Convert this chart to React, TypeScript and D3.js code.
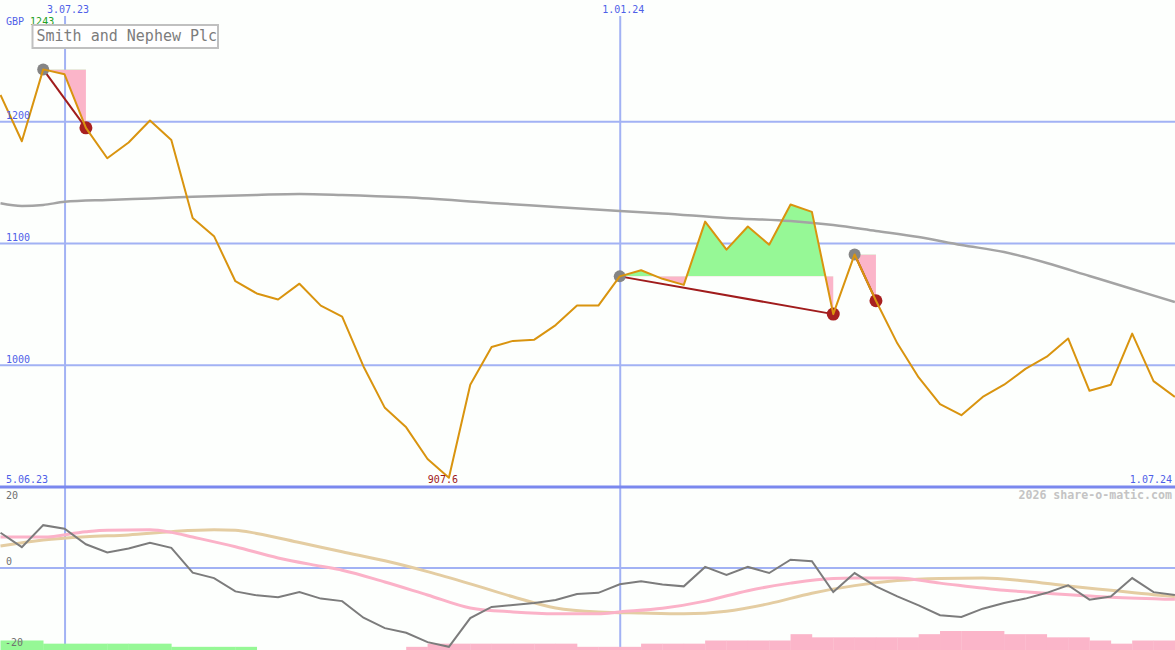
import React from "react";
import * as d3 from "d3";

const W = 1175;
const H = 650;

const title = "Smith and Nephew Plc";
const currency = "GBP";
const site = "2026 share-o-matic.com";

// weekly closes (GBp)
const price = [
  1222, 1184, 1243, 1239, 1195, 1170, 1183, 1201, 1185, 1121, 1106, 1069, 1059, 1054,
  1067, 1049, 1040, 999, 965, 949, 923, 907.6, 984, 1015, 1020, 1021, 1033, 1049, 1049,
  1073, 1078, 1071, 1066, 1118, 1095, 1114, 1099, 1132, 1126, 1042, 1091, 1053, 1018,
  990, 968, 959, 974, 984, 997, 1007, 1022, 979, 984, 1026, 987, 974,
];

// long moving average (read at selected weeks)
const maWeeks = [0, 1, 2, 3, 5, 7, 9, 12, 14, 16, 19, 23, 26, 29, 31, 34, 37, 39, 41, 43, 45, 47, 49, 51, 53, 55];
const maVals = [1133.1, 1130.9, 1131.7, 1134.2, 1135.8, 1137.0, 1138.3, 1139.9, 1140.7, 1139.9, 1137.9, 1133.3, 1130.0, 1126.7, 1124.7, 1121.0, 1118.5, 1115.2, 1110.3, 1105.3, 1098.8, 1093.0, 1084.0, 1073.3, 1062.6, 1051.9];

// lower panel: momentum (weekly)
const momentum = [
  9.8, 5.8, 11.9, 10.9, 6.6, 4.3, 5.4, 7.0, 5.6, -1.3, -2.8, -6.5, -7.6, -8.1, -6.7, -8.5,
  -9.2, -13.8, -16.7, -18.0, -20.6, -21.9, -13.9, -10.8, -10.3, -9.7, -8.9, -7.2, -6.9,
  -4.5, -3.7, -4.6, -5.1, 0.3, -1.9, 0.3, -1.4, 2.3, 1.9, -6.7, -1.4, -5.1, -7.9, -10.4,
  -13.1, -13.6, -11.3, -9.7, -8.5, -6.9, -4.8, -8.8, -7.9, -2.8, -6.7, -7.5,
];

// lower panel: pink signal line
const pinkWeeks = [0, 2, 4, 5, 7, 8, 9, 11, 13, 15, 16, 18, 20, 22, 24, 26, 28, 29, 31, 33, 35, 37, 39, 40, 42, 44, 47, 49, 52, 55];
const pinkVals = [8.6, 8.6, 10.1, 10.5, 10.6, 9.9, 8.6, 5.9, 2.8, 0.5, -0.6, -3.9, -7.5, -11.1, -12.2, -12.7, -12.7, -12.2, -11.2, -9.2, -6.3, -4.2, -2.9, -2.8, -2.8, -4.2, -6.2, -7.0, -8.1, -8.7];

// lower panel: tan signal line
const tanWeeks = [0, 2, 4, 6, 8, 10, 11, 12, 14, 16, 18, 20, 22, 24, 26, 28, 30, 32, 34, 36, 38, 40, 42, 44, 46, 48, 50, 52, 54, 55];
const tanVals = [6.1, 7.8, 8.7, 9.2, 10.1, 10.6, 10.5, 9.6, 7.1, 4.5, 2.0, -1.0, -4.4, -8.0, -11.1, -12.2, -12.5, -12.7, -12.0, -9.9, -7.0, -4.9, -3.5, -2.9, -2.75, -3.6, -5.0, -6.2, -7.4, -7.9];

// lower panel: histogram levels (positive green, negative pink)
const bars = [
  3, 3, 2, 2, 2, 2, 2, 2, 1, 1, 1, 1, 0, 0, 0, 0, 0, 0, 0, -1, -2, -2, -2, -2, -2, -2, -2,
  -1, -1, -1, -2, -2, -2, -3, -3, -3, -3, -5, -4, -4, -4, -4, -4, -5, -6, -6, -6, -5, -5,
  -4, -4, -3, -2, -3, -3, -3,
];

// drawdown episodes: peak week -> trough week
const peaks = [2, 29, 40];
const troughs = [4, 39, 41];

const priceTicks = [1000, 1100, 1200];
const indTicks = [20, 0, -20];
const dateTickWeeks = [3, 29];
const dateTickLabels = ["3.07.23", "1.01.24"];
const startLabel = "5.06.23";
const endLabel = "1.07.24";

const FONT = "'DejaVu Sans Mono', monospace";
const BG = "#fdfffd";
const GRID = "#a2b2f4";
const SEP = "#7a88ee";
const BLUE = "#4f5fe8";
const ORANGE = "#d9940f";
const GREEN = "#96f896";
const PINK = "#fbb5c9";

export default function App() {
  const x = d3.scaleLinear().domain([0, 55]).range([0.5, 1174.9]);
  const y = d3.scaleLinear().domain([900, 1300]).range([487, 0]);
  const yi = d3.scaleLinear().domain([-20, 20]).range([640, 496]);
  const yb = d3.scaleLinear().domain([0, 6]).range([650, 631]);

  const priceLine = d3
    .line<number>()
    .x((_, i) => x(i))
    .y((d) => y(d));
  const maLine = d3
    .line<number>()
    .x((_, i) => x(maWeeks[i]))
    .y((d) => y(d))
    .curve(d3.curveMonotoneX);
  const momLine = d3
    .line<number>()
    .x((_, i) => x(i))
    .y((d) => yi(d));
  const sparse = (weeks: number[]) =>
    d3
      .line<number>()
      .x((_, i) => x(weeks[i]))
      .y((d) => yi(d))
      .curve(d3.curveMonotoneX);

  const minI = d3.minIndex(price);
  const maxV = d3.max(price) as number;

  return (
    <>
      <style>{`html,body{margin:0;padding:0;background:${BG};}`}</style>
      <svg width={W} height={H} style={{ display: "block", background: BG }}>
        <defs>
          {peaks.map((p, k) => {
            const ly = y(price[p]);
            return (
              <React.Fragment key={k}>
                <clipPath id={`above${k}`}>
                  <rect x={0} y={0} width={W} height={ly} />
                </clipPath>
                <clipPath id={`below${k}`}>
                  <rect x={0} y={ly} width={W} height={487 - ly} />
                </clipPath>
              </React.Fragment>
            );
          })}
        </defs>
        <rect x={0} y={0} width={W} height={H} fill={BG} />

        {/* grid */}
        {priceTicks.map((t) => (
          <line key={t} x1={0} x2={W} y1={y(t)} y2={y(t)} stroke={GRID} strokeWidth={2} />
        ))}
        <line x1={0} x2={W} y1={yi(0)} y2={yi(0)} stroke={GRID} strokeWidth={2} />
        {dateTickWeeks.map((w) => (
          <line key={w} x1={x(w) + 0.5} x2={x(w) + 0.5} y1={16} y2={H} stroke={GRID} strokeWidth={2} />
        ))}

        {/* drawdown fills */}
        {peaks.map((p, k) => {
          const idx = d3.range(p, troughs[k] + 1);
          const level = price[p];
          const area = d3
            .area<number>()
            .x((i) => x(i))
            .y0(y(level))
            .y1((i) => y(price[i]));
          const d = area(idx) || "";
          return (
            <g key={k}>
              <path d={d} fill={GREEN} clipPath={`url(#above${k})`} />
              <path d={d} fill={PINK} clipPath={`url(#below${k})`} />
            </g>
          );
        })}

        {/* moving average */}
        <path d={maLine(maVals) || ""} fill="none" stroke="#a4a4a4" strokeWidth={2.5} />

        {/* drawdown lines */}
        {peaks.map((p, k) => (
          <line
            key={k}
            x1={x(p)}
            y1={y(price[p])}
            x2={x(troughs[k])}
            y2={y(price[troughs[k]])}
            stroke="#a01c1c"
            strokeWidth={2}
          />
        ))}
        {peaks.map((p) => (
          <circle key={"p" + p} cx={x(p)} cy={y(price[p])} r={6} fill="#858585" />
        ))}
        {troughs.map((t) => (
          <circle key={"t" + t} cx={x(t)} cy={y(price[t])} r={6.5} fill="#a82020" />
        ))}

        {/* price */}
        <path d={priceLine(price) || ""} fill="none" stroke={ORANGE} strokeWidth={2} strokeLinejoin="round" />

        {/* separator */}
        <line x1={0} x2={W} y1={487} y2={487} stroke={SEP} strokeWidth={3} />

        {/* lower panel */}
        {bars.map((b, i) =>
          b === 0 ? null : (
            <rect
              key={i}
              x={x(i)}
              y={yb(Math.abs(b))}
              width={x(i + 1) - x(i) + 0.3}
              height={650 - yb(Math.abs(b))}
              fill={b > 0 ? GREEN : PINK}
            />
          )
        )}
        <path d={sparse(tanWeeks)(tanVals) || ""} fill="none" stroke="#e4cda2" strokeWidth={3} />
        <path d={sparse(pinkWeeks)(pinkVals) || ""} fill="none" stroke="#fbb2c8" strokeWidth={3} />
        <path d={momLine(momentum) || ""} fill="none" stroke="#7c7c7c" strokeWidth={2} />

        {/* text */}
        <g fontFamily={FONT} fontSize={10}>
          {dateTickWeeks.map((w, i) => (
            <text key={w} x={x(w) + 3.5} y={12.5} textAnchor="middle" fill={BLUE}>
              {dateTickLabels[i]}
            </text>
          ))}
          <text x={6} y={25} fill={BLUE}>
            {currency + " "}
            <tspan fill="#22a022">{maxV}</tspan>
          </text>
          {priceTicks.map((t) => (
            <text key={t} x={6} y={y(t) - 2.5} fill={BLUE}>
              {t}
            </text>
          ))}
          <text x={6} y={482.7} fill={BLUE}>
            {startLabel}
          </text>
          <text x={1172} y={482.7} textAnchor="end" fill={BLUE}>
            {endLabel}
          </text>
          <text x={x(minI) - 6} y={482.7} textAnchor="middle" fill="#a01818">
            {price[minI]}
          </text>
          {indTicks.map((t) => (
            <text key={t} x={t < 0 ? 5 : 6} y={yi(t) + (t === 20 ? 3.3 : t === 0 ? -2.7 : 5.7)} fill="#707070">
              {t}
            </text>
          ))}
          <text x={1172} y={499.3} textAnchor="end" fill="#c4c4c4" fontSize={11.6} fontWeight="bold">
            {site}
          </text>
        </g>

        {/* title box */}
        <rect x={32.5} y={25} width={185.5} height={23} fill="#ffffff" stroke="#c0c0c0" strokeWidth={2} />
        <text x={36.5} y={41} fontFamily={FONT} fontSize={15} fill="#7c7c7c">
          {title}
        </text>
      </svg>
    </>
  );
}
